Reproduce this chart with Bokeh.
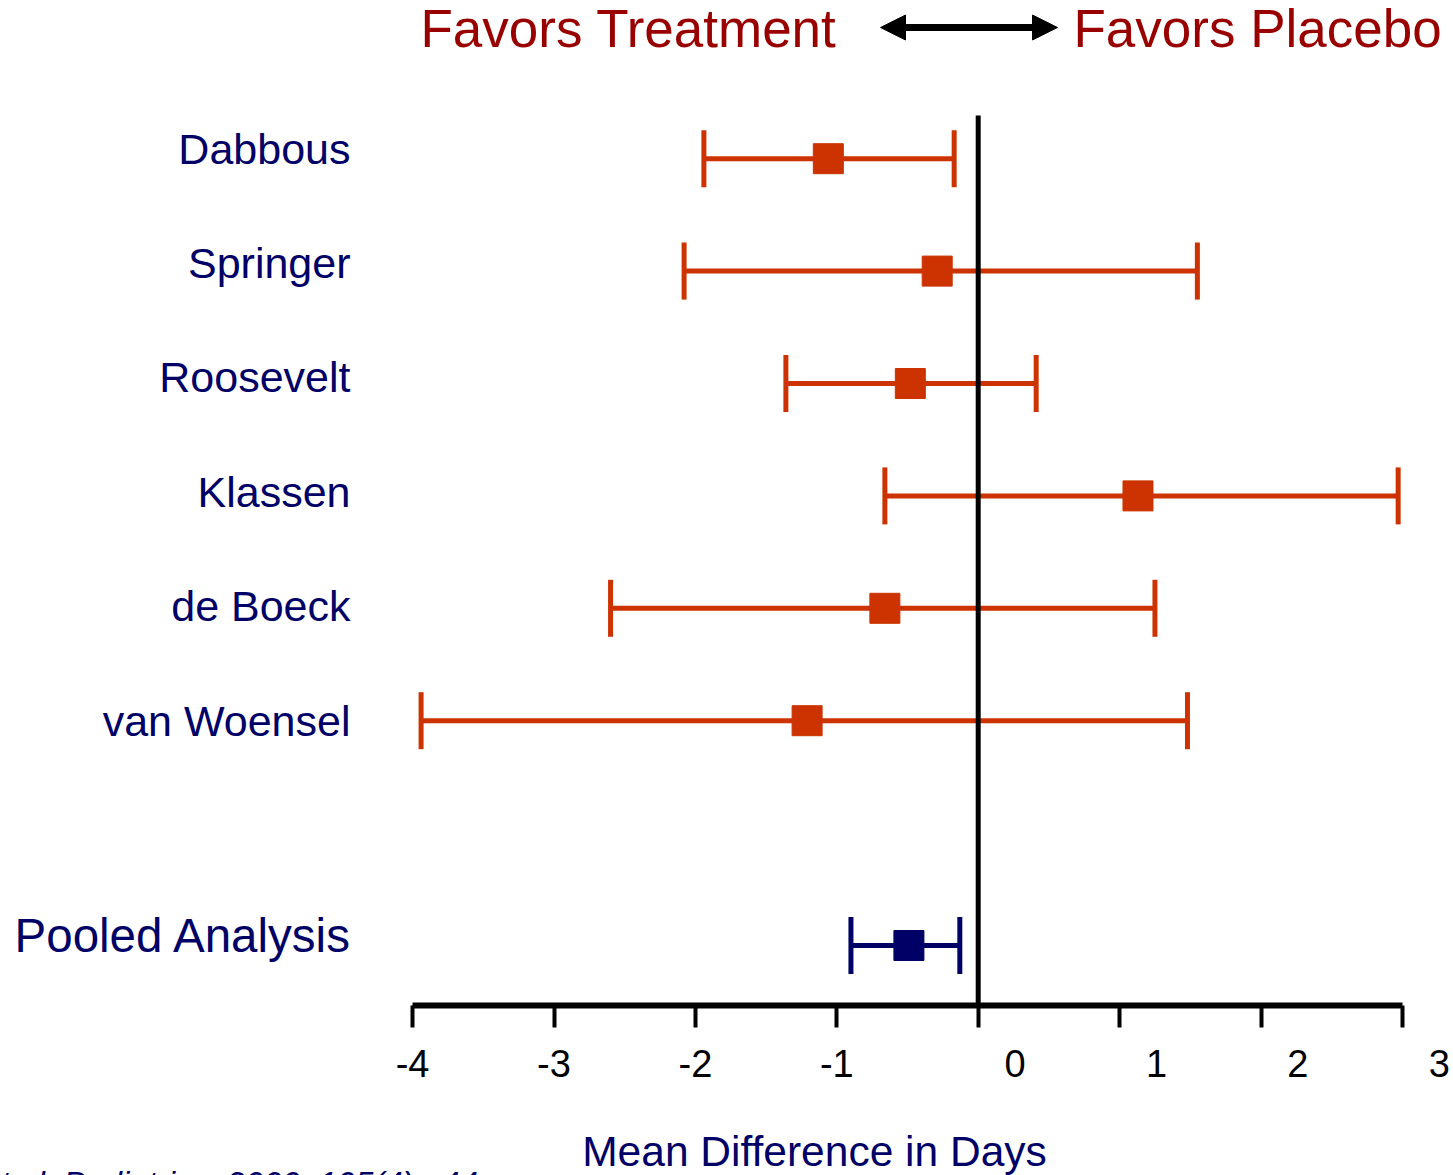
from bokeh.plotting import figure
from bokeh.layouts import column
from bokeh.models import Range1d, FixedTicker, Arrow, NormalHead, Whisker, TeeHead, ColumnDataSource
from bokeh.core.properties import value
from bokeh.embed import file_html
from bokeh.resources import INLINE

# ---- data ----
studies = ["Dabbous", "Springer", "Roosevelt", "Klassen", "de Boeck", "van Woensel"]
study_rows = [7, 6, 5, 4, 3, 2]
study_mean = [-1.06, -0.29, -0.48, 1.13, -0.66, -1.21]
study_lower = [-1.94, -2.08, -1.36, -0.66, -2.60, -3.94]
study_upper = [-0.17, 1.55, 0.41, 2.97, 1.25, 1.48]

pooled_label = ["Pooled Analysis"]
pooled_rows = [0]
pooled_mean = [-0.49]
pooled_lower = [-0.90]
pooled_upper = [-0.13]

x_ticks = [-4, -3, -2, -1, 0, 1, 2, 3]

title_left = "Favors Treatment"
title_right = "Favors Placebo"
x_title = "Mean Difference in Days"
footnote = "et al. Pediatrics. 2000; 105(4):e44"

# ---- style ----
ORANGE = "#CC3300"
NAVY = "#000066"
DRED = "#990000"
FONT = "Liberation Sans"

PX_X = 141.4       # pixels per day
X0 = 977.7         # pixel of zero
PX_Y = 112.4
Y0 = 945.0
W = 1453
TOP_H = 1100
FRAME_H = 1005
BOT_H = 75

xr = Range1d(-X0 / PX_X, (W - X0) / PX_X)

p = figure(width=W, height=TOP_H, output_backend="svg", toolbar_location=None,
           x_range=xr, y_range=Range1d(-(FRAME_H - Y0) / PX_Y, Y0 / PX_Y),
           min_border_left=0, min_border_right=0, min_border_top=0,
           min_border_bottom=TOP_H - FRAME_H)
# separate vertical scale for the study names
p.extra_y_ranges = {"labels": Range1d((148 + 7 * 114.4 - FRAME_H) / 114.4, (148 + 7 * 114.4) / 114.4)}
p.outline_line_color = None
p.background_fill_color = "white"
p.border_fill_color = "white"
p.grid.visible = False
p.yaxis.visible = False

xa = p.xaxis[0]
xa.bounds = (x_ticks[0], x_ticks[-1])
xa.ticker = FixedTicker(ticks=x_ticks)
xa.major_label_overrides = {t: (str(t).replace("\u2212", "-") if t < 0 else "\u00a0" * 7 + str(t)) for t in x_ticks}
xa.axis_line_width = 6
xa.axis_line_color = "black"
xa.major_tick_out = 22
xa.major_tick_in = 0
xa.major_tick_line_width = 4
xa.major_tick_line_color = "black"
xa.minor_tick_out = 0
xa.minor_tick_in = 0
xa.major_label_text_font = FONT
xa.major_label_text_font_size = "38px"
xa.major_label_text_color = "black"
xa.major_label_standoff = 15

# zero line
p.segment(x0=[0], y0=[-(FRAME_H - Y0) / PX_Y], x1=[0], y1=[(Y0 - 115) / PX_Y],
          line_color="black", line_width=5)

# studies
src = ColumnDataSource(dict(row=study_rows, mean=study_mean, lo=study_lower, hi=study_upper, name=studies))
p.add_layout(Whisker(source=src, base="row", lower="lo", upper="hi", dimension="width",
                     line_color=ORANGE, line_width=5,
                     lower_head=TeeHead(size=57, line_color=ORANGE, line_width=5),
                     upper_head=TeeHead(size=57, line_color=ORANGE, line_width=5)))
p.scatter(x="mean", y="row", source=src, marker="square", size=30,
          fill_color=ORANGE, line_color=ORANGE)

psrc = ColumnDataSource(dict(row=pooled_rows, mean=pooled_mean, lo=pooled_lower, hi=pooled_upper, name=pooled_label))
p.add_layout(Whisker(source=psrc, base="row", lower="lo", upper="hi", dimension="width",
                     line_color=NAVY, line_width=5,
                     lower_head=TeeHead(size=57, line_color=NAVY, line_width=5),
                     upper_head=TeeHead(size=57, line_color=NAVY, line_width=5)))
p.scatter(x="mean", y="row", source=psrc, marker="square", size=30,
          fill_color=NAVY, line_color=NAVY)

label_x = (350 - X0) / PX_X
p.text(x=label_x, y="row", text="name", source=src, y_range_name="labels",
       text_align="right", text_baseline="middle",
       text_font=value(FONT), text_font_size="43px", text_color=NAVY)
p.text(x=label_x, y="row", text="name", source=psrc, text_align="right", text_baseline="middle",
       text_font=value(FONT), text_font_size="47.5px", text_color=NAVY, y_offset=-10, x_offset=2)

# header
ty = (Y0 - 28) / PX_Y
p.text(x=[(420 - X0) / PX_X], y=[ty], text=[title_left], text_align="left", text_baseline="middle",
       text_font=value(FONT), text_font_size="53px", text_color=DRED)
p.text(x=[(1073 - X0) / PX_X], y=[ty], text=[title_right], text_align="left", text_baseline="middle",
       text_font=value(FONT), text_font_size="53px", text_color=DRED)
ay = (Y0 - 27) / PX_Y
p.add_layout(Arrow(x_start=(880 - X0) / PX_X, y_start=ay, x_end=(1057 - X0) / PX_X, y_end=ay,
                   line_width=7, line_color="black",
                   start=NormalHead(size=25, fill_color="black", line_color="black", line_width=1),
                   end=NormalHead(size=25, fill_color="black", line_color="black", line_width=1)))

# bottom strip: axis title and footnote (y = pixels from the strip's top)
p2 = figure(width=W, height=BOT_H, output_backend="svg", toolbar_location=None,
            x_range=xr, y_range=Range1d(BOT_H, 0),
            min_border_left=0, min_border_right=0, min_border_top=0, min_border_bottom=0)
p2.outline_line_color = None
p2.grid.visible = False
p2.axis.visible = False
p2.text(x=[(814 - X0) / PX_X], y=[51], text=[x_title], text_align="center", text_baseline="middle",
        text_font=value(FONT), text_font_size="42.5px", text_color=NAVY)
p2.text(x=[(-18 - X0) / PX_X], y=[83], text=[footnote], text_align="left", text_baseline="middle",
        text_font=value(FONT), text_font_size="33px", text_font_style="italic", text_color=NAVY)

layout = column(p, p2, spacing=0)
open("out.html", "w").write(file_html(layout, INLINE))
